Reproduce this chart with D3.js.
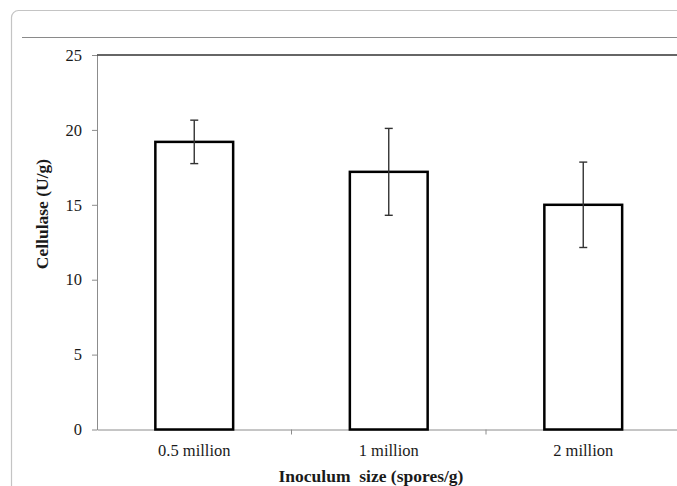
<!DOCTYPE html>
<html>
<head>
<meta charset="utf-8">
<script src="https://cdn.jsdelivr.net/npm/d3@7"></script>
<style>
  body { margin: 0; background: #fff; }
  svg { display: block; }
  svg text { font-family: "Liberation Serif", "DejaVu Serif", serif; }
</style>
</head>
<body>
<svg id="chart" width="677" height="486"></svg>
<script>
  var categories = ['0.5 million', '1 million', '2 million'];
  var cellulase = [19.2, 17.2, 15.0];
  var errors = [1.45, 2.9, 2.85];
  var yTicks = [0, 5, 10, 15, 20, 25];

  var LEFT = 97, RIGHT = 680.5, TOP = 55, BOTTOM = 429.5;
  var FONT = '"Liberation Serif", "DejaVu Serif", serif';

  var svg = d3.select('#chart');

  // frame of the figure
  svg.append('rect')
    .attr('x', 11.5).attr('y', 10.5)
    .attr('width', 720).attr('height', 520)
    .attr('rx', 7)
    .attr('fill', 'none')
    .attr('stroke', '#c4c4c4')
    .attr('stroke-width', 1.2);

  svg.append('line')
    .attr('x1', 22).attr('x2', 677)
    .attr('y1', 37.5).attr('y2', 37.5)
    .attr('stroke', '#8a8a8a')
    .attr('stroke-width', 1.2);

  var x = d3.scaleBand().domain(categories).range([LEFT, RIGHT])
    .paddingInner(0.6).paddingOuter(0.3);
  var y = d3.scaleLinear().domain([0, 25]).range([BOTTOM, TOP]);

  // y axis
  var yAxis = svg.append('g')
    .attr('transform', 'translate(' + LEFT + ',0)')
    .call(d3.axisLeft(y).tickValues(yTicks).tickSize(5).tickSizeOuter(0).tickPadding(10));
  yAxis.attr('font-family', null).attr('font-size', null);
  yAxis.select('.domain').attr('stroke', '#8c8c8c');
  yAxis.selectAll('.tick line').attr('stroke', '#8c8c8c');
  yAxis.selectAll('text')
    .style('font-family', FONT)
    .style('font-size', '16.5px')
    .attr('fill', '#1a1a1a');

  // top border line
  svg.append('line')
    .attr('x1', LEFT).attr('x2', 677)
    .attr('y1', y(25)).attr('y2', y(25))
    .attr('stroke', '#333')
    .attr('stroke-width', 1.3);

  // x axis
  var xAxis = svg.append('g')
    .attr('transform', 'translate(0,' + BOTTOM + ')')
    .call(d3.axisBottom(x).tickSize(0).tickSizeOuter(0).tickPadding(15));
  xAxis.attr('font-family', null).attr('font-size', null);
  xAxis.select('.domain').attr('stroke', '#8c8c8c');
  xAxis.selectAll('text')
    .style('font-family', FONT)
    .style('font-size', '16.5px')
    .attr('fill', '#1a1a1a');

  // category boundary ticks
  svg.append('g')
    .selectAll('line')
    .data(categories.slice(1))
    .join('line')
    .attr('x1', function (d) { return x(d) - x.step() * 0.3; })
    .attr('x2', function (d) { return x(d) - x.step() * 0.3; })
    .attr('y1', BOTTOM).attr('y2', BOTTOM + 5)
    .attr('stroke', '#8c8c8c');

  // bars
  svg.append('g')
    .selectAll('rect')
    .data(cellulase)
    .join('rect')
    .attr('x', function (d, i) { return x(categories[i]); })
    .attr('y', function (d) { return y(d); })
    .attr('width', x.bandwidth())
    .attr('height', function (d) { return y(0) - y(d); })
    .attr('fill', '#fff')
    .attr('stroke', '#000')
    .attr('stroke-width', 2.5);

  // error bars
  var eb = svg.append('g')
    .selectAll('g')
    .data(cellulase)
    .join('g')
    .attr('stroke', '#333')
    .attr('stroke-width', 1.4);
  eb.append('line')
    .attr('x1', function (d, i) { return x(categories[i]) + x.bandwidth() / 2; })
    .attr('x2', function (d, i) { return x(categories[i]) + x.bandwidth() / 2; })
    .attr('y1', function (d, i) { return y(d + errors[i]); })
    .attr('y2', function (d, i) { return y(d - errors[i]); });
  [1, -1].forEach(function (s) {
    eb.append('line')
      .attr('x1', function (d, i) { return x(categories[i]) + x.bandwidth() / 2 - 4; })
      .attr('x2', function (d, i) { return x(categories[i]) + x.bandwidth() / 2 + 4; })
      .attr('y1', function (d, i) { return y(d + s * errors[i]); })
      .attr('y2', function (d, i) { return y(d + s * errors[i]); });
  });

  // axis titles
  svg.append('text')
    .attr('transform', 'translate(48,214) rotate(-90)')
    .attr('text-anchor', 'middle')
    .style('font-family', FONT)
    .style('font-weight', 'bold')
    .style('font-size', '17.5px')
    .attr('fill', '#1a1a1a')
    .text('Cellulase (U/g)');

  svg.append('text')
    .attr('x', 371).attr('y', 482)
    .attr('text-anchor', 'middle')
    .style('white-space', 'pre')
    .style('font-family', FONT)
    .style('font-weight', 'bold')
    .style('font-size', '17.5px')
    .attr('fill', '#1a1a1a')
    .text('Inoculum  size (spores/g)');
</script>
</body>
</html>
